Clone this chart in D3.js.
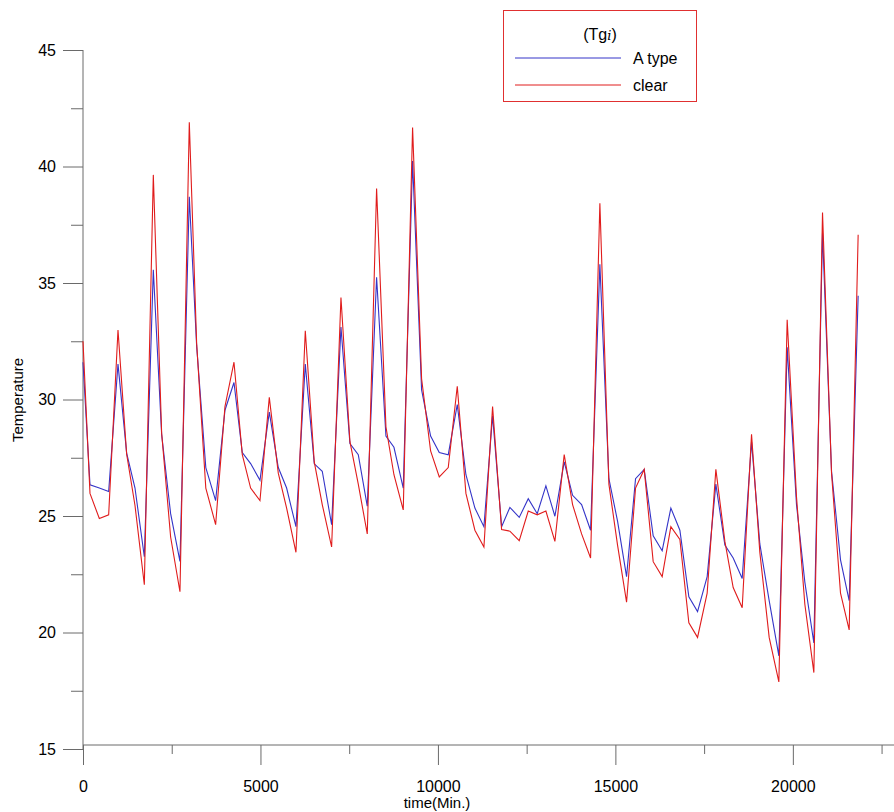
<!DOCTYPE html>
<html lang="en">
	<head>
		<meta charset="utf-8">
		<title>Temperature over time</title>
		<script src="https://d3js.org/d3.v7.min.js"></script>
		<style type="text/css">
			body {
				margin: 0;
				background: #fff;
			}
			text {
				font-family: "Liberation Sans", Arial, sans-serif;
				fill: #000;
			}
		</style>
	</head>
	<body>
		<script type="text/javascript">
			//Data
			var times = [0, 197, 460, 723, 986, 1230, 1465, 1728, 1981, 2216, 2469, 2732, 2995, 3202, 3460, 3737,
				4000, 4254, 4488, 4723, 4986, 5249, 5502, 5737, 6000, 6263, 6516, 6741, 7005, 7268, 7521, 7756,
				8009, 8272, 8535, 8761, 9023, 9286, 9540, 9794, 10038, 10291, 10545, 10789, 11042, 11296, 11540,
				11794, 12028, 12291, 12545, 12798, 13042, 13296, 13558, 13794, 14048, 14301, 14563, 14817, 15061,
				15315, 15568, 15812, 16065, 16318, 16563, 16817, 17070, 17315, 17586, 17831, 18085, 18319, 18573,
				18836, 19070, 19333, 19606, 19840, 20103, 20338, 20592, 20836, 21090, 21343, 21587, 21840];

			var aType = [31.6, 26.34, 26.2, 26.05, 31.52, 27.7, 26.2, 23.25, 35.57, 28.5, 25.1, 23.05, 38.7, 32.3,
				27.08, 25.66, 29.54, 30.73, 27.72, 27.25, 26.53, 29.46, 27.08, 26.2, 24.54, 31.52, 27.24, 26.92,
				24.63, 33.11, 28.11, 27.63, 25.42, 35.25, 28.43, 27.95, 26.2, 40.24, 30.41, 28.43, 27.72, 27.63,
				29.78, 26.77, 25.34, 24.54, 29.3, 24.54, 25.37, 24.94, 25.74, 25.1, 26.29, 24.99, 27.32, 25.89,
				25.49, 24.39, 35.8, 26.6, 24.78, 22.4, 26.6, 27.0, 24.15, 23.51, 25.34, 24.39, 21.53, 20.9, 22.4,
				26.37, 23.75, 23.2, 22.32, 28.19, 23.8, 21.37, 19.0, 32.24, 25.49, 22.16, 19.55, 37.15, 26.92,
				23.12, 21.37, 34.45];

			var clear = [32.5, 25.97, 24.89, 25.05, 32.98, 27.65, 25.45, 22.05, 39.64, 28.55, 24.1, 21.75, 41.9, 32.4,
				26.2, 24.63, 29.7, 31.6, 27.63, 26.2, 25.66, 30.09, 26.84, 25.34, 23.44, 32.95, 27.32, 25.49,
				23.67, 34.38, 28.19, 26.37, 24.23, 39.06, 28.83, 26.77, 25.26, 41.67, 30.89, 27.79, 26.68, 27.08,
				30.57, 25.97, 24.39, 23.67, 29.7, 24.42, 24.35, 23.94, 25.21, 25.05, 25.21, 23.91, 27.64, 25.49,
				24.23, 23.2, 38.42, 26.37, 23.75, 21.3, 26.2, 27.0, 23.04, 22.4, 24.54, 23.99, 20.42, 19.79, 21.69,
				27.0, 23.91, 21.93, 21.06, 28.51, 23.44, 19.79, 17.88, 33.42, 25.81, 21.21, 18.28, 38.02, 26.84,
				21.69, 20.11, 37.07];

			var xMajor = [0, 5000, 10000, 15000, 20000];
			var xMinor = [2500, 7500, 12500, 17500, 22500];
			var yMajor = [15, 20, 25, 30, 35, 40, 45];
			var yMinor = [17.5, 22.5, 27.5, 32.5, 37.5, 42.5];

			var seriesNames = ["A type", "clear"];
			var seriesColors = ["#3434c8", "#e01c1c"];

			//Width and height
			var w = 894;
			var h = 812;
			var axisColor = "#6a6a6a";

			var svg = d3.select("body")
						.append("svg")
						.attr("width", w)
						.attr("height", h);

			var xScale = d3.scaleLinear()
							.domain([0, 22850])
							.range([83, 894]);

			var yScale = d3.scaleLinear()
							.domain([15, 45])
							.range([749, 50]);

			var xAxisY = 745;

			//X axis: major ticks with labels, then minor ticks
			var xAxis = svg.append("g")
				.attr("transform", "translate(0," + xAxisY + ")")
				.call(d3.axisBottom(xScale)
					.tickValues(xMajor)
					.tickSize(20)
					.tickPadding(15.5)
					.tickFormat(d3.format("d")));

			svg.append("g")
				.attr("transform", "translate(0," + xAxisY + ")")
				.call(d3.axisBottom(xScale)
					.tickValues(xMinor)
					.tickSize(9)
					.tickFormat(""))
				.select(".domain").remove();

			//Y axis
			var yAxis = svg.append("g")
				.attr("transform", "translate(83,0)")
				.call(d3.axisLeft(yScale)
					.tickValues(yMajor)
					.tickSize(20)
					.tickPadding(7));

			svg.append("g")
				.attr("transform", "translate(83,0)")
				.call(d3.axisLeft(yScale)
					.tickValues(yMinor)
					.tickSize(12)
					.tickFormat(""))
				.select(".domain").remove();

			svg.selectAll(".domain")
				.attr("d", null);

			//style the axes the way the original looks
			svg.selectAll(".tick line")
				.attr("stroke", axisColor);
			svg.selectAll(".tick text")
				.attr("font-size", "16px")
				.attr("font-family", "Liberation Sans, Arial, sans-serif")
				.attr("fill", "#111");
			svg.selectAll(".domain").remove();

			//axis lines drawn by hand from the scales
			svg.append("line")
				.attr("x1", xScale(0))
				.attr("x2", xScale(22850))
				.attr("y1", xAxisY)
				.attr("y2", xAxisY)
				.attr("stroke", axisColor);

			svg.append("line")
				.attr("x1", xScale(0))
				.attr("x2", xScale(0))
				.attr("y1", yScale(45))
				.attr("y2", yScale(15))
				.attr("stroke", axisColor);

			//Axis titles
			svg.append("text")
				.attr("x", 437)
				.attr("y", 808)
				.attr("text-anchor", "middle")
				.attr("font-size", "15px")
				.text("time(Min.)");

			svg.append("text")
				.attr("transform", "translate(23,400) rotate(-90)")
				.attr("text-anchor", "middle")
				.attr("font-size", "15px")
				.text("Temperature");

			//Lines
			var line = d3.line()
				.x(function(d) { return xScale(d[0]); })
				.y(function(d) { return yScale(d[1]); });

			var series = [aType, clear];
			series.forEach(function(vals, i) {
				svg.append("path")
					.datum(times.map(function(t, j) { return [t, vals[j]]; }))
					.attr("fill", "none")
					.attr("stroke", seriesColors[i])
					.attr("stroke-width", 1.1)
					.attr("d", line);
			});

			//Legend
			var legend = svg.append("g");

			legend.append("rect")
				.attr("x", 503.5)
				.attr("y", 10.5)
				.attr("width", 193)
				.attr("height", 91)
				.attr("fill", "#fff")
				.attr("stroke", "#e03030");

			var title = legend.append("text")
				.attr("x", 600)
				.attr("y", 40)
				.attr("text-anchor", "middle")
				.attr("font-size", "16px");
			title.append("tspan").text("(Tg");
			title.append("tspan")
				.attr("font-style", "italic")
				.attr("font-family", "DejaVu Serif, serif")
				.attr("font-size", "13px")
				.text("i");
			title.append("tspan").text(")");

			seriesNames.forEach(function(name, i) {
				var ly = 58 + i * 27;
				legend.append("line")
					.attr("x1", 515)
					.attr("x2", 621)
					.attr("y1", ly)
					.attr("y2", ly)
					.attr("stroke", seriesColors[i]);
				legend.append("text")
					.attr("x", 633)
					.attr("y", ly + 6)
					.attr("font-size", "16px")
					.text(name);
			});
		</script>
	</body>
</html>
